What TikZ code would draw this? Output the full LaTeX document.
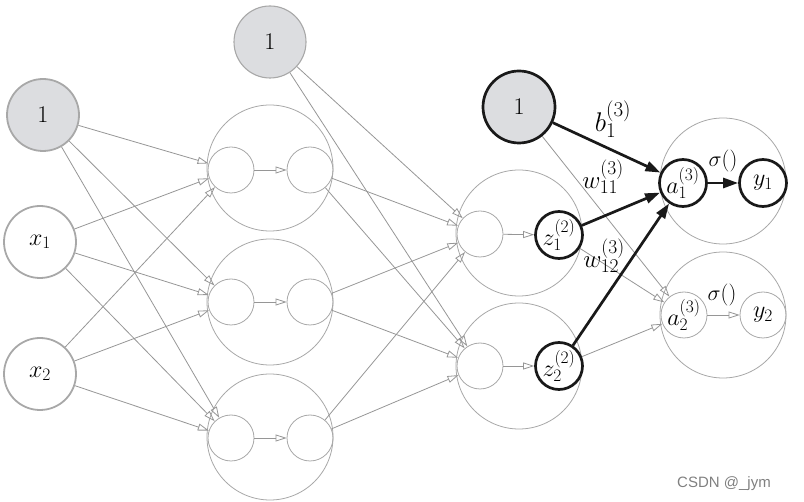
\RequirePackage{fix-cm}
\documentclass[tikz,border=0pt]{standalone}
\usepackage{fontspec}
\usepackage{tikz}
\usepackage{xcolor}
\usetikzlibrary{arrows.meta}

\newfontfamily\wmfont{Liberation Sans}
\DeclareMathSizes{27}{27}{21}{15}
\DeclareMathSizes{25}{25}{19.5}{14}
\DeclareMathSizes{24}{24}{17.5}{13}
\definecolor{edgegray}{RGB}{150,150,150}
\definecolor{ringgray}{RGB}{168,168,168}
\definecolor{biasfill}{RGB}{220,221,224}
\definecolor{hotblack}{RGB}{25,25,25}

\begin{document}
\begin{tikzpicture}[x=1pt,y=-1pt,
        lbl/.style={font=\fontsize{25}{29}\selectfont},
        cell/.style={circle,draw=ringgray,line width=0.8pt,minimum size=126pt,inner sep=0pt},
        unit/.style={circle,draw=ringgray,line width=0.8pt,minimum size=46pt,inner sep=0pt,font=\fontsize{24}{28}\selectfont},
        hotunit/.style={unit,draw=hotblack,line width=2.7pt,minimum size=47pt},
        inunit/.style={circle,draw=ringgray,line width=1.8pt,minimum size=72pt,inner sep=0pt,font=\fontsize{24}{28}\selectfont},
        biasunit/.style={inunit,fill=biasfill},
        edge/.style={draw=edgegray,line width=0.8pt,-{Triangle[open,length=11pt,width=7pt]}},
        hotedge/.style={draw=hotblack,line width=2.7pt,-{Triangle[length=15pt,width=10pt]}}]
        \useasboundingbox (0,0) rectangle (804,502);
        % layer rings
        \node[cell] (H1) at (270,168) {};
        \node[cell] (H2) at (270,302) {};
        \node[cell] (H3) at (270,437) {};
        \node[cell] (G1) at (519,233) {};
        \node[cell] (G2) at (519,366) {};
        \node[cell] (O1) at (723,181) {};
        \node[cell] (O2) at (723,315) {};
        % input units
        \node[biasunit] (b0) at (43,115) {$1$};
        \node[inunit] (x1) at (40,242) {$x_1$};
        \node[inunit] (x2) at (40,374) {$x_2$};
        % first hidden layer
        \node[biasunit,line width=1.1pt] (b1) at (270,42) {$1$};
        \node[unit] (h1a) at (231,170) {};
        \node[unit] (h1b) at (310,170) {};
        \node[unit] (h2a) at (231,302) {};
        \node[unit] (h2b) at (310,302) {};
        \node[unit] (h3a) at (231,438) {};
        \node[unit] (h3b) at (310,438) {};
        % second hidden layer
        \node[biasunit,draw=hotblack,line width=2.7pt] (b2) at (519,107) {$1$};
        \node[unit] (g1a) at (480,234) {};
        \node[hotunit] (z1) at (559,235) {$z_1^{(2)}$};
        \node[unit] (g2a) at (480,366) {};
        \node[hotunit] (z2) at (559,366) {$z_2^{(2)}$};
        % output layer
        \node[hotunit] (a1) at (683,183) {$a_1^{(3)}$};
        \node[hotunit] (y1) at (763,183) {$y_1$};
        \node[unit] (a2) at (684,315) {$a_2^{(3)}$};
        \node[unit] (y2) at (763,315) {$y_2$};
        % input -> first hidden
        \draw[edge] (b0) -- (h1a); \draw[edge] (b0) -- (h2a); \draw[edge] (b0) -- (h3a);
        \draw[edge] (x1) -- (h1a); \draw[edge] (x1) -- (h2a); \draw[edge] (x1) -- (h3a);
        \draw[edge] (x2) -- (h1a); \draw[edge] (x2) -- (h2a); \draw[edge] (x2) -- (h3a);
        \draw[edge] (h1a) -- (h1b); \draw[edge] (h2a) -- (h2b); \draw[edge] (h3a) -- (h3b);
        % first hidden -> second hidden
        \draw[edge] (b1) -- (g1a); \draw[edge] (b1) -- (g2a);
        \draw[edge] (h1b) -- (g1a); \draw[edge] (h1b) -- (g2a);
        \draw[edge] (h2b) -- (g1a); \draw[edge] (h2b) -- (g2a);
        \draw[edge] (h3b) -- (g1a); \draw[edge] (h3b) -- (g2a);
        \draw[edge] (g1a) -- (z1); \draw[edge] (g2a) -- (z2);
        % second hidden -> output
        \draw[edge] (b2) -- (a2); \draw[edge] (z1) -- (a2); \draw[edge] (z2) -- (a2);
        \draw[edge] (a2) -- (y2);
        \draw[hotedge] (b2) -- (a1); \draw[hotedge] (z1) -- (a1); \draw[hotedge] (z2) -- (a1);
        \draw[hotedge] (a1) -- (y1);
        % weight labels
        \node[lbl,font=\fontsize{27}{31}\selectfont] (lb) at (613,119) {$b_1^{(3)}$};
        \node[lbl] (lw11) at (603,177) {$w_{11}^{(3)}$};
        \node[lbl] (lw12) at (604,256) {$w_{12}^{(3)}$};
        \node[lbl,font=\fontsize{22}{26}\selectfont] (ls1) at (723,161) {$\sigma()$};
        \node[lbl,font=\fontsize{22}{26}\selectfont] (ls2) at (722,295) {$\sigma()$};
        % watermark
        \node[font=\wmfont\fontsize{15}{18}\selectfont,text=gray] (wm) at (724,484) {CSDN @\_jym};
\end{tikzpicture}
\end{document}
